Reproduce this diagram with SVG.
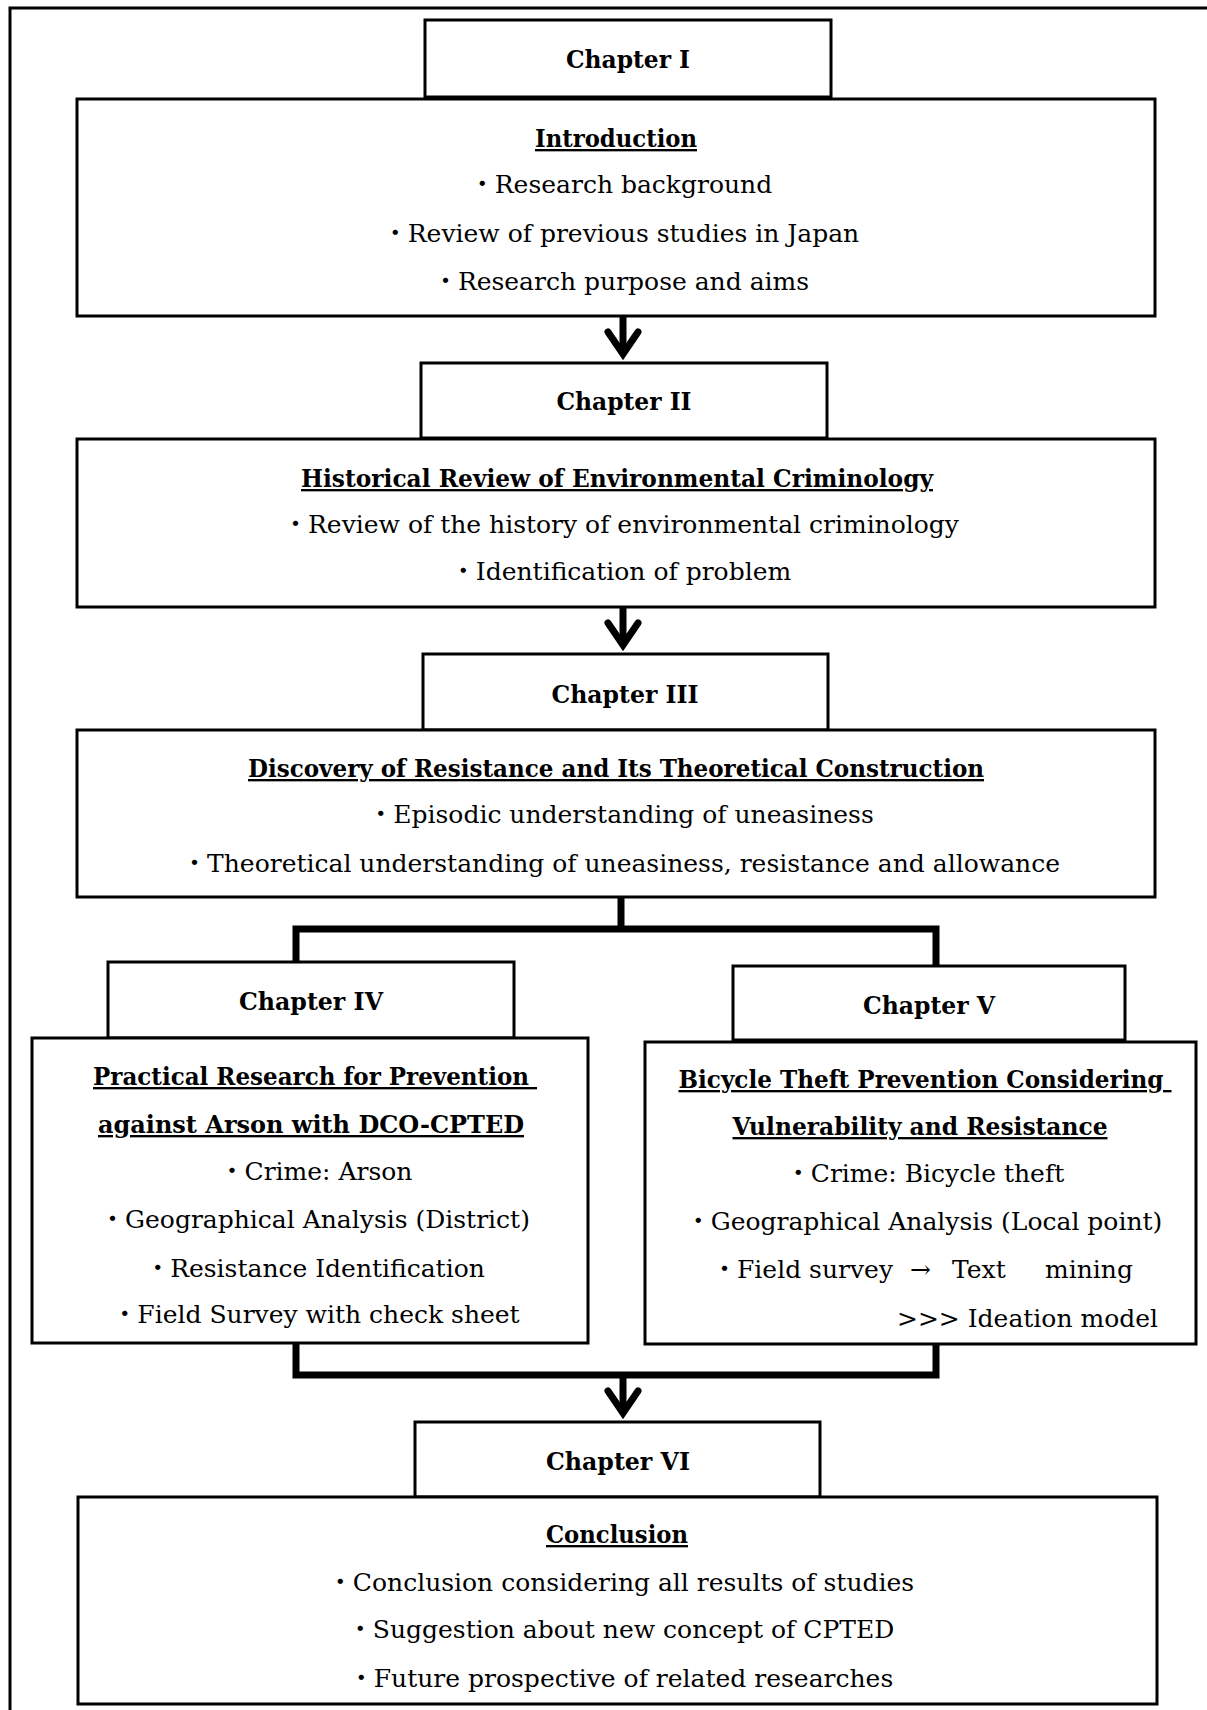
<svg xmlns="http://www.w3.org/2000/svg" width="1207" height="1710" viewBox="0 0 1207 1710">
<style>
.box{fill:#fff;stroke:#000;stroke-width:3}
.t{font-family:"DejaVu Serif","Noto Sans CJK JP",serif;font-size:25px;fill:#000;text-anchor:middle;white-space:pre}
.h{font-weight:bold;font-size:23.5px;text-decoration:underline}
.c{font-weight:bold;font-size:24px}
.con{fill:none;stroke:#000;stroke-width:7;stroke-linejoin:miter;stroke-linecap:butt}
.hd{fill:none;stroke:#000;stroke-width:7;stroke-linejoin:miter;stroke-linecap:round}
</style>
<rect width="1207" height="1710" fill="#fff"/>
<path d="M10,1710 V8 H1207" fill="none" stroke="#000" stroke-width="3"/>

<g id="connectors">
  <path class="con" d="M623,316 V354"/>
  <path class="hd" d="M608,332 L623,354 L638,332"/>
  <path class="con" d="M623,607 V645"/>
  <path class="hd" d="M608,623 L623,645 L638,623"/>
  <path class="con" d="M621,897 V929 M296,962 V929 H936 V966"/>
  <path class="con" d="M296,1343 V1375 H936 V1344 M623,1375 V1413"/>
  <path class="hd" d="M608,1391 L623,1413 L638,1391"/>
</g>

<g id="ch1">
  <rect class="box" x="425" y="20" width="406" height="77"/>
  <text class="t c" x="628" y="68" textLength="124" lengthAdjust="spacingAndGlyphs">Chapter I</text>
</g>
<g id="intro">
  <rect class="box" x="77" y="99" width="1078" height="217"/>
  <text class="t h" x="616" y="147" textLength="162" lengthAdjust="spacingAndGlyphs">Introduction</text>
  <text class="t" x="621" y="193">・Research background</text>
  <text class="t" x="621" y="242">・Review of previous studies in Japan</text>
  <text class="t" x="621" y="290">・Research purpose and aims</text>
</g>

<g id="ch2">
  <rect class="box" x="421" y="363" width="406" height="75"/>
  <text class="t c" x="624" y="410" textLength="135" lengthAdjust="spacingAndGlyphs">Chapter II</text>
</g>
<g id="history">
  <rect class="box" x="77" y="439" width="1078" height="168"/>
  <text class="t h" x="617" y="487" textLength="632" lengthAdjust="spacingAndGlyphs">Historical Review of Environmental Criminology</text>
  <text class="t" x="621" y="533">・Review of the history of environmental criminology</text>
  <text class="t" x="621" y="580">・Identification of problem</text>
</g>

<g id="ch3">
  <rect class="box" x="423" y="654" width="405" height="76"/>
  <text class="t c" x="625" y="703" textLength="147" lengthAdjust="spacingAndGlyphs">Chapter III</text>
</g>
<g id="discovery">
  <rect class="box" x="77" y="730" width="1078" height="167"/>
  <text class="t h" x="616" y="777" textLength="736" lengthAdjust="spacingAndGlyphs">Discovery of Resistance and Its Theoretical Construction</text>
  <text class="t" x="621" y="823">・Episodic understanding of uneasiness</text>
  <text class="t" x="621" y="872">・Theoretical understanding of uneasiness, resistance and allowance</text>
</g>

<g id="ch4">
  <rect class="box" x="108" y="962" width="406" height="76"/>
  <text class="t c" x="311" y="1010" textLength="144" lengthAdjust="spacingAndGlyphs">Chapter IV</text>
</g>
<g id="arson">
  <rect class="box" x="32" y="1038" width="556" height="305"/>
  <text class="t h" x="315" y="1085" textLength="444" lengthAdjust="spacingAndGlyphs">Practical Research for Prevention </text>
  <text class="t h" x="311" y="1133" textLength="426" lengthAdjust="spacingAndGlyphs">against Arson with DCO-CPTED</text>
  <text class="t" x="316" y="1180">・Crime: Arson</text>
  <text class="t" x="315" y="1228">・Geographical Analysis (District)</text>
  <text class="t" x="315" y="1277">・Resistance Identification</text>
  <text class="t" x="316" y="1323">・Field Survey with check sheet</text>
</g>

<g id="ch5">
  <rect class="box" x="733" y="966" width="392" height="74"/>
  <text class="t c" x="929" y="1014" textLength="132" lengthAdjust="spacingAndGlyphs">Chapter V</text>
</g>
<g id="bicycle">
  <rect class="box" x="645" y="1042" width="551" height="302"/>
  <text class="t h" x="925" y="1088" textLength="493" lengthAdjust="spacingAndGlyphs">Bicycle Theft Prevention Considering </text>
  <text class="t h" x="920" y="1135" textLength="375" lengthAdjust="spacingAndGlyphs">Vulnerability and Resistance</text>
  <text class="t" x="925" y="1182">・Crime: Bicycle theft</text>
  <text class="t" x="924" y="1230">・Geographical Analysis (Local point)</text>
  <text class="t" x="712" y="1278" style="text-anchor:start">・Field survey<tspan x="910">→</tspan><tspan x="952">Text</tspan><tspan x="1045">mining</tspan></text>
  <text class="t" x="1158" y="1327" style="text-anchor:end">&gt;&gt;&gt; Ideation model</text>
</g>

<g id="ch6">
  <rect class="box" x="415" y="1422" width="405" height="75"/>
  <text class="t c" x="618" y="1470" textLength="144" lengthAdjust="spacingAndGlyphs">Chapter VI</text>
</g>
<g id="conclusion">
  <rect class="box" x="78" y="1497" width="1079" height="207"/>
  <text class="t h" x="617" y="1543" textLength="142" lengthAdjust="spacingAndGlyphs">Conclusion</text>
  <text class="t" x="621" y="1591">・Conclusion considering all results of studies</text>
  <text class="t" x="621" y="1638">・Suggestion about new concept of CPTED</text>
  <text class="t" x="621" y="1687">・Future prospective of related researches</text>
</g>
</svg>
